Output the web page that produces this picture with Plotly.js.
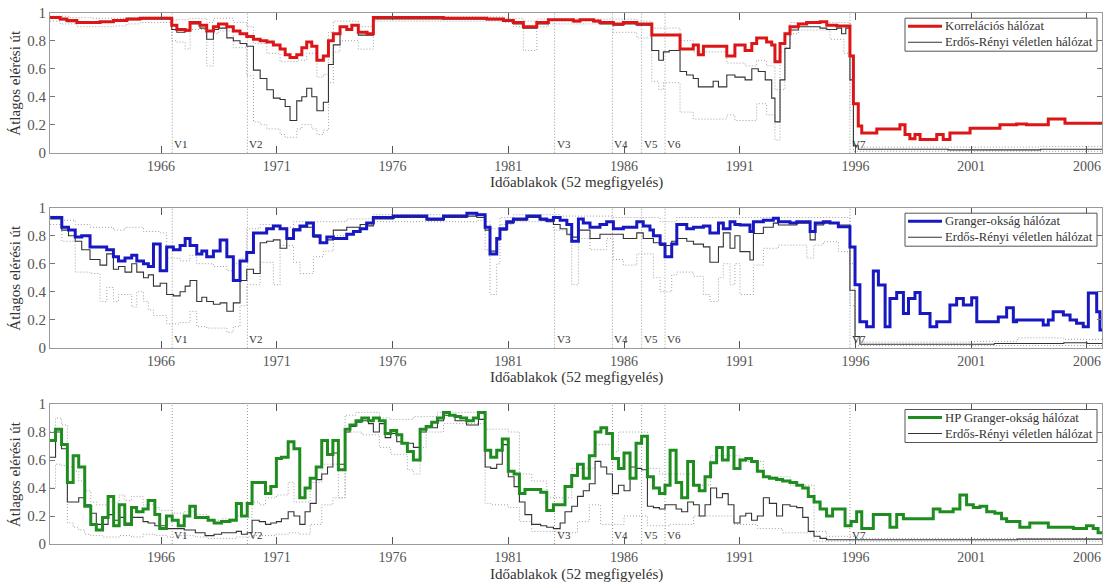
<!DOCTYPE html>
<html>
<head>
<meta charset="utf-8">
<script src="https://cdn.plot.ly/plotly-3.0.1.min.js"></script>
<style>
  html, body { margin: 0; padding: 0; background: #fff; }
  #chart { width: 1103px; height: 585px; }
</style>
</head>
<body>
<div id="chart"></div>
<script>
// ---- Event markers ----
const eventYears  = [1966.48, 1969.73, 1983.0, 1985.5, 1986.76, 1987.77, 1995.76];
const eventLabels = ['V1', 'V2', 'V3', 'V4', 'V5', 'V6', 'V7'];

const yTickVals = [0, 0.2, 0.4, 0.6, 0.8, 1];
const yTickText = ['0', '0.2', '0.4', '0.6', '0.8', '1'];

const seriesNames = ['Korrelációs hálózat', 'Granger-okság hálózat', 'HP Granger-okság hálózat'];
const erName = 'Erdős-Rényi véletlen hálózat';
const xTitle = 'Időablakok (52 megfigyelés)';
const yTitle = 'Átlagos elérési út';

// ---- Panel 1: correlation network ----
const corrYears = [1961.2,1961.64,1961.93,1962.36,1963.36,1963.94,1964.52,1965.09,1966.46,1966.68,1967.04,1967.25,1967.68,1967.97,1968.26,1968.48,1968.84,1969.12,1969.41,1969.70,1969.99,1970.28,1970.57,1970.85,1971.14,1971.36,1971.57,1971.86,1972.08,1972.29,1972.51,1972.73,1973.01,1973.23,1973.44,1973.73,1974.02,1974.24,1974.52,1974.9,1975.17,1978.19,1980.07,1980.79,1981.22,1981.65,1982.23,1982.73,1983.81,1984.10,1984.68,1984.96,1985.54,1985.97,1986.55,1987.20,1988.42,1988.99,1989.21,1989.43,1990.44,1990.79,1991.23,1991.52,1991.73,1992.16,1992.38,1992.52,1992.74,1992.95,1993.17,1993.53,1993.89,1994.47,1994.76,1995.19,1995.76,1995.91,1996.12,1996.27,1996.92,1997.92,1998.14,1998.35,1998.57,1998.79,1999.51,1999.79,2000.08,2000.95,2002.24,2002.96,2003.39,2004.33,2005.05];
const corrVals  = [0.965,0.955,0.945,0.93,0.935,0.945,0.955,0.96,0.91,0.88,0.875,0.93,0.91,0.87,0.90,0.92,0.90,0.87,0.85,0.83,0.81,0.80,0.79,0.77,0.74,0.70,0.68,0.70,0.75,0.79,0.76,0.66,0.69,0.80,0.85,0.90,0.88,0.91,0.86,0.85,0.965,0.96,0.955,0.945,0.93,0.90,0.93,0.95,0.94,0.95,0.94,0.93,0.92,0.93,0.92,0.84,0.74,0.77,0.70,0.76,0.69,0.77,0.73,0.78,0.82,0.79,0.77,0.65,0.78,0.85,0.90,0.92,0.93,0.935,0.91,0.905,0.69,0.35,0.19,0.14,0.17,0.20,0.13,0.10,0.13,0.095,0.13,0.095,0.14,0.175,0.20,0.205,0.20,0.24,0.21];

const erCorrYears = [1961.2,1961.64,1961.93,1962.36,1963.36,1963.94,1964.52,1965.09,1966.46,1966.68,1967.04,1967.25,1967.68,1967.97,1968.26,1968.48,1968.84,1969.12,1969.41,1969.70,1969.99,1970.28,1970.57,1970.85,1971.14,1971.36,1971.57,1971.86,1972.08,1972.29,1972.51,1972.73,1973.01,1973.23,1973.44,1973.73,1974.02,1974.24,1974.52,1975.17,1980.07,1980.79,1981.22,1981.65,1982.23,1982.73,1983.81,1984.10,1984.68,1984.96,1985.54,1985.97,1986.55,1987.20,1987.5,1987.7,1987.95,1988.42,1988.7,1988.99,1989.21,1989.85,1990.08,1990.44,1990.79,1991.23,1991.52,1991.8,1992.1,1992.38,1992.52,1992.74,1992.95,1993.17,1993.53,1994.47,1994.76,1995.19,1995.4,1995.58,1995.76,1995.91,1996.12,2000.0,2004.0];
const erCorrVals  = [0.96,0.95,0.935,0.925,0.93,0.94,0.95,0.955,0.88,0.86,0.87,0.92,0.89,0.81,0.88,0.89,0.82,0.80,0.78,0.76,0.59,0.53,0.45,0.39,0.38,0.33,0.23,0.37,0.40,0.46,0.40,0.30,0.36,0.63,0.77,0.90,0.88,0.91,0.84,0.955,0.95,0.94,0.92,0.89,0.92,0.945,0.935,0.945,0.935,0.92,0.91,0.92,0.91,0.73,0.66,0.72,0.73,0.58,0.555,0.53,0.47,0.51,0.47,0.555,0.54,0.52,0.60,0.58,0.52,0.39,0.22,0.52,0.745,0.876,0.90,0.89,0.88,0.89,0.85,0.89,0.52,0.05,0.025,0.02,0.025];

const hiCorrYears = [1961.2,1962.0,1963.0,1964.5,1965.1,1966.46,1967.25,1967.97,1968.26,1969.12,1969.70,1969.99,1970.57,1971.14,1971.86,1972.29,1972.73,1973.01,1973.23,1973.44,1974.52,1975.17,1980.79,1981.65,1982.23,1986.55,1987.20,1988.42,1988.99,1990.44,1991.23,1991.73,1992.16,1992.52,1992.74,1992.95,1993.17,1995.76,1995.91,1996.12,2004.0];
const hiCorrVals  = [0.975,0.965,0.96,0.965,0.97,0.95,0.96,0.93,0.96,0.93,0.90,0.78,0.71,0.65,0.66,0.71,0.54,0.56,0.86,0.94,0.90,0.97,0.96,0.94,0.955,0.94,0.89,0.80,0.72,0.64,0.62,0.66,0.62,0.45,0.72,0.86,0.93,0.70,0.06,0.04,0.045];

const loCorrYears = [1961.2,1961.64,1962.36,1963.94,1964.52,1965.09,1966.46,1966.68,1967.04,1967.25,1967.97,1968.26,1968.48,1969.12,1969.70,1969.99,1970.28,1970.57,1971.14,1971.36,1971.86,1972.08,1972.51,1972.73,1973.01,1973.23,1973.44,1973.73,1974.52,1975.17,1980.79,1981.22,1981.65,1982.23,1982.73,1985.54,1986.55,1987.20,1987.5,1987.7,1988.42,1988.99,1990.44,1990.79,1991.73,1992.16,1992.52,1992.74,1992.95,1993.17,1993.53,1994.90,1995.5,1995.76,1995.91];
const loCorrVals  = [0.94,0.92,0.90,0.905,0.92,0.93,0.80,0.79,0.74,0.88,0.62,0.85,0.87,0.75,0.55,0.22,0.20,0.17,0.13,0.11,0.17,0.20,0.17,0.13,0.16,0.50,0.72,0.80,0.74,0.94,0.93,0.90,0.73,0.90,0.92,0.86,0.82,0.51,0.45,0.50,0.29,0.24,0.27,0.23,0.35,0.27,0.09,0.45,0.75,0.85,0.876,0.81,0.71,0.30,0.01];

// ---- Panel 2: Granger-causality network ----
const granYears = [1961.21,1961.71,1962.0,1962.29,1962.57,1962.93,1963.65,1963.94,1964.16,1964.44,1964.73,1964.95,1965.24,1965.45,1965.67,1965.96,1966.24,1966.53,1966.82,1967.04,1967.25,1967.54,1967.76,1967.97,1968.26,1968.55,1968.84,1969.12,1969.41,1969.70,1969.99,1970.56,1970.85,1971.14,1971.43,1971.72,1972.0,1972.29,1972.58,1972.87,1973.16,1973.44,1974.02,1974.31,1974.60,1974.88,1975.17,1976.03,1977.48,1978.20,1979.21,1979.64,1980.00,1980.21,1980.50,1980.64,1980.93,1981.22,1981.80,1982.37,1982.66,1982.95,1983.24,1983.53,1983.74,1984.03,1984.24,1984.53,1984.96,1985.25,1985.54,1985.97,1986.55,1986.83,1987.12,1987.27,1987.56,1987.77,1988.06,1988.28,1988.71,1989.00,1989.43,1989.71,1990.08,1990.29,1990.58,1990.79,1991.01,1991.44,1991.59,1992.02,1992.45,1992.67,1993.17,1993.46,1994.04,1994.26,1994.61,1994.90,1995.26,1995.76,1995.98,1996.19,1996.48,1996.77,1996.99,1997.28,1997.49,1997.78,1998.07,1998.29,1998.57,1998.79,1999.22,1999.51,2000.08,2000.37,2000.66,2001.02,2001.24,2002.17,2002.53,2002.82,2002.96,2004.11,2004.33,2004.54,2004.98,2005.27,2005.55,2005.84,2006.06,2006.42,2006.56];
const granVals  = [0.93,0.86,0.84,0.79,0.80,0.72,0.70,0.65,0.62,0.64,0.66,0.62,0.60,0.58,0.74,0.55,0.72,0.70,0.73,0.78,0.73,0.67,0.69,0.65,0.69,0.77,0.65,0.48,0.62,0.68,0.82,0.85,0.87,0.85,0.78,0.84,0.87,0.89,0.80,0.75,0.79,0.78,0.81,0.83,0.85,0.89,0.93,0.94,0.92,0.94,0.96,0.95,0.86,0.67,0.78,0.85,0.90,0.92,0.94,0.92,0.91,0.93,0.91,0.88,0.76,0.92,0.89,0.86,0.88,0.90,0.85,0.86,0.90,0.87,0.84,0.80,0.74,0.65,0.74,0.88,0.85,0.86,0.87,0.82,0.89,0.85,0.90,0.88,0.876,0.83,0.90,0.91,0.924,0.90,0.89,0.90,0.83,0.89,0.90,0.89,0.864,0.72,0.45,0.186,0.15,0.548,0.448,0.15,0.352,0.395,0.245,0.352,0.395,0.245,0.15,0.186,0.305,0.352,0.305,0.357,0.186,0.22,0.286,0.186,0.198,0.162,0.198,0.257,0.233,0.198,0.174,0.15,0.39,0.257,0.126];

const erGranYears = [1961.21,1961.71,1962.0,1962.29,1962.57,1962.93,1963.36,1963.65,1963.94,1964.16,1964.44,1964.73,1964.95,1965.24,1965.45,1965.67,1965.96,1966.24,1966.53,1966.82,1967.04,1967.25,1967.54,1967.76,1967.97,1968.26,1968.55,1968.84,1969.12,1969.41,1969.70,1969.99,1970.28,1970.56,1970.85,1971.14,1971.43,1971.72,1972.0,1972.58,1972.87,1973.16,1973.44,1974.02,1974.60,1974.88,1975.17,1976.03,1977.48,1978.20,1979.21,1979.64,1980.00,1980.21,1980.50,1980.64,1980.93,1981.22,1981.80,1982.37,1982.66,1982.95,1983.24,1983.53,1983.74,1984.03,1984.53,1984.96,1985.97,1986.55,1986.83,1987.27,1987.56,1988.06,1988.28,1988.71,1989.00,1989.43,1989.71,1990.08,1990.29,1990.58,1990.79,1991.01,1991.44,1991.59,1992.02,1992.45,1992.67,1993.46,1994.04,1994.26,1994.61,1995.26,1995.76,1995.98,1996.19,2002.0,2005.0,2006.0];
const erGranVals  = [0.92,0.84,0.80,0.76,0.70,0.63,0.59,0.67,0.56,0.58,0.54,0.60,0.54,0.50,0.52,0.44,0.46,0.38,0.37,0.40,0.44,0.48,0.33,0.36,0.33,0.31,0.32,0.26,0.32,0.48,0.56,0.53,0.75,0.76,0.77,0.71,0.78,0.85,0.86,0.79,0.75,0.77,0.84,0.86,0.88,0.87,0.92,0.93,0.91,0.93,0.94,0.93,0.84,0.69,0.77,0.84,0.89,0.91,0.93,0.91,0.90,0.88,0.85,0.81,0.79,0.84,0.78,0.81,0.78,0.82,0.78,0.75,0.73,0.76,0.78,0.76,0.74,0.72,0.61,0.72,0.82,0.71,0.80,0.686,0.626,0.816,0.86,0.89,0.876,0.89,0.77,0.876,0.89,0.876,0.41,0.08,0.025,0.03,0.035,0.03];

const hiGranYears = [1961.21,1961.71,1962.29,1962.93,1963.94,1964.44,1965.24,1965.96,1966.24,1966.82,1967.25,1967.54,1968.26,1968.84,1969.12,1969.41,1969.70,1970.28,1971.14,1971.72,1974.02,1975.17,1979.64,1980.00,1980.21,1980.64,1981.22,1983.24,1985.54,1987.56,1988.28,1995.26,1995.76,1995.98,1996.19,2001.0,2003.0,2005.0];
const hiGranVals  = [0.94,0.91,0.88,0.86,0.84,0.86,0.83,0.82,0.64,0.62,0.66,0.60,0.58,0.55,0.60,0.64,0.85,0.88,0.86,0.90,0.92,0.95,0.96,0.90,0.85,0.93,0.95,0.94,0.93,0.90,0.93,0.93,0.60,0.05,0.04,0.045,0.07,0.06];

const loGranYears = [1961.21,1961.71,1962.29,1962.93,1963.36,1963.65,1963.94,1964.16,1964.73,1964.95,1965.24,1965.45,1965.67,1966.24,1966.82,1967.25,1967.54,1967.97,1968.84,1969.12,1969.41,1969.70,1970.28,1970.85,1971.14,1971.72,1972.0,1972.58,1973.01,1973.44,1974.02,1974.60,1975.17,1979.64,1980.00,1980.21,1980.50,1980.64,1981.22,1982.95,1983.53,1983.74,1984.03,1984.53,1985.25,1985.54,1985.97,1986.55,1987.27,1987.56,1988.06,1988.28,1989.00,1989.43,1989.71,1990.08,1990.29,1990.58,1990.79,1991.01,1991.59,1992.02,1992.67,1993.9,1994.2,1994.61,1995.26,1995.76,1995.98];
const loGranVals  = [0.88,0.76,0.54,0.53,0.33,0.43,0.33,0.38,0.29,0.40,0.33,0.27,0.23,0.17,0.18,0.26,0.15,0.14,0.11,0.15,0.30,0.45,0.61,0.45,0.73,0.61,0.53,0.65,0.69,0.80,0.86,0.88,0.90,0.91,0.70,0.38,0.60,0.88,0.90,0.84,0.80,0.45,0.78,0.70,0.78,0.63,0.59,0.67,0.50,0.40,0.52,0.54,0.51,0.38,0.33,0.50,0.60,0.45,0.60,0.38,0.59,0.71,0.733,0.64,0.733,0.757,0.686,0.30,0.015];

// ---- Panel 3: HP-filtered Granger-causality network ----
const hpYears = [1961.2,1961.44,1961.70,1961.95,1962.20,1962.44,1962.70,1962.96,1963.20,1963.47,1963.71,1963.95,1964.19,1964.43,1964.72,1964.94,1965.22,1965.44,1965.73,1965.94,1966.23,1966.48,1966.74,1967.00,1967.24,1967.48,1968.03,1968.29,1968.61,1968.97,1969.25,1969.47,1969.72,1969.93,1970.51,1970.74,1970.98,1971.20,1971.49,1971.74,1971.99,1972.22,1972.44,1972.70,1972.94,1973.19,1973.42,1973.66,1973.95,1974.16,1974.42,1974.67,1974.96,1975.17,1975.43,1975.68,1975.92,1976.18,1976.40,1976.64,1976.90,1977.19,1977.45,1977.69,1977.94,1978.20,1978.46,1978.70,1978.94,1979.20,1979.49,1979.71,1980.00,1980.24,1980.50,1980.74,1981.00,1981.25,1981.48,1981.72,1982.40,1982.66,1982.95,1983.45,1983.74,1983.99,1984.24,1984.50,1984.75,1985.00,1985.25,1985.50,1985.76,1986.00,1986.26,1986.52,1986.76,1987.01,1987.27,1987.53,1987.77,1987.99,1988.25,1988.49,1988.75,1989.00,1989.25,1989.50,1989.74,1990.00,1990.25,1990.50,1990.75,1991.01,1991.26,1991.51,1991.76,1992.02,1992.28,1992.59,1992.85,1993.17,1993.46,1993.72,1993.96,1994.21,1994.47,1994.75,1995.01,1995.55,1995.81,1996.05,1996.27,1996.77,1997.49,1997.78,1998.07,1999.36,1999.65,2000.22,2000.51,2000.80,2001.09,2001.38,2001.67,2002.02,2002.31,2002.53,2003.10,2003.53,2004.33,2005.41,2005.98,2006.27,2006.48];
const hpVals  = [0.74,0.82,0.71,0.44,0.63,0.55,0.27,0.14,0.10,0.19,0.34,0.13,0.28,0.14,0.26,0.23,0.25,0.31,0.21,0.11,0.20,0.17,0.13,0.20,0.27,0.19,0.17,0.15,0.16,0.17,0.29,0.20,0.29,0.44,0.36,0.41,0.61,0.62,0.73,0.68,0.33,0.40,0.47,0.55,0.74,0.64,0.74,0.53,0.82,0.85,0.88,0.90,0.88,0.90,0.88,0.79,0.81,0.78,0.72,0.66,0.60,0.82,0.84,0.87,0.90,0.94,0.92,0.91,0.90,0.88,0.90,0.94,0.67,0.62,0.67,0.75,0.52,0.50,0.36,0.39,0.37,0.24,0.28,0.41,0.49,0.57,0.47,0.63,0.80,0.83,0.79,0.61,0.54,0.65,0.47,0.72,0.77,0.48,0.40,0.36,0.42,0.67,0.44,0.33,0.59,0.42,0.38,0.48,0.58,0.69,0.60,0.69,0.54,0.60,0.61,0.59,0.52,0.48,0.47,0.46,0.45,0.44,0.42,0.40,0.34,0.30,0.25,0.20,0.25,0.13,0.16,0.23,0.11,0.21,0.12,0.21,0.18,0.25,0.23,0.25,0.35,0.28,0.26,0.27,0.23,0.22,0.18,0.16,0.12,0.15,0.12,0.11,0.13,0.11,0.08];

const erHpYears = [1961.2,1961.44,1961.70,1961.95,1962.44,1962.70,1962.96,1963.20,1963.71,1963.95,1964.19,1964.43,1964.72,1965.22,1965.44,1965.73,1966.23,1967.00,1967.48,1967.90,1968.29,1968.61,1969.25,1969.47,1969.72,1969.93,1970.24,1970.51,1970.74,1970.98,1971.20,1971.49,1971.74,1971.99,1972.22,1972.44,1972.70,1972.94,1973.19,1973.42,1973.66,1973.95,1974.16,1974.42,1974.67,1974.96,1975.17,1975.43,1975.68,1975.92,1976.18,1976.40,1976.90,1977.19,1977.45,1977.94,1978.20,1978.70,1979.20,1979.71,1980.00,1980.24,1980.50,1980.74,1981.00,1981.25,1981.48,1981.72,1982.01,1982.40,1982.66,1982.95,1983.24,1983.45,1983.74,1983.99,1984.24,1984.50,1984.75,1985.00,1985.25,1985.50,1985.76,1986.00,1986.26,1986.52,1986.76,1987.01,1987.27,1987.53,1987.77,1988.25,1988.49,1988.75,1989.00,1989.25,1989.50,1989.74,1990.00,1990.25,1990.50,1990.75,1991.01,1991.26,1991.51,1991.76,1992.02,1992.28,1992.59,1992.85,1993.17,1993.46,1993.72,1993.96,1994.21,1994.47,1994.75,2000.0,2003.0];
const erHpVals  = [0.62,0.80,0.68,0.30,0.33,0.28,0.22,0.14,0.21,0.17,0.19,0.15,0.19,0.16,0.15,0.13,0.11,0.10,0.08,0.06,0.07,0.08,0.09,0.07,0.08,0.17,0.16,0.14,0.15,0.16,0.18,0.23,0.20,0.14,0.23,0.29,0.46,0.50,0.55,0.65,0.57,0.80,0.84,0.87,0.88,0.86,0.80,0.86,0.76,0.79,0.73,0.72,0.69,0.80,0.83,0.88,0.92,0.88,0.85,0.89,0.55,0.54,0.57,0.71,0.48,0.41,0.30,0.21,0.14,0.13,0.12,0.11,0.15,0.23,0.27,0.34,0.38,0.43,0.59,0.55,0.50,0.36,0.42,0.38,0.55,0.54,0.53,0.27,0.26,0.25,0.28,0.25,0.23,0.30,0.28,0.20,0.28,0.40,0.33,0.36,0.28,0.15,0.20,0.22,0.17,0.20,0.33,0.29,0.20,0.28,0.27,0.26,0.19,0.09,0.055,0.04,0.03,0.03,0.035];

const hiHpYears = [1961.2,1961.44,1961.70,1961.95,1962.20,1962.44,1962.70,1962.96,1963.20,1963.71,1964.19,1964.43,1964.72,1965.22,1965.73,1965.94,1966.48,1967.00,1967.48,1968.03,1968.61,1969.25,1969.72,1969.93,1970.24,1970.51,1970.98,1971.49,1971.74,1972.44,1972.94,1973.66,1973.95,1974.42,1975.43,1975.92,1976.90,1977.94,1980.00,1981.00,1981.48,1982.01,1982.66,1983.74,1984.75,1985.50,1985.76,1987.01,1987.53,1989.00,1989.74,1991.01,1992.02,1993.17,1994.21,1994.75,1996.0];
const hiHpVals  = [0.80,0.90,0.85,0.55,0.52,0.45,0.38,0.30,0.28,0.30,0.35,0.31,0.34,0.28,0.26,0.24,0.22,0.23,0.21,0.17,0.18,0.20,0.19,0.30,0.28,0.33,0.35,0.44,0.30,0.44,0.57,0.33,0.92,0.94,0.90,0.89,0.91,0.94,0.82,0.80,0.50,0.45,0.33,0.54,0.71,0.66,0.80,0.54,0.50,0.42,0.63,0.59,0.48,0.42,0.09,0.055,0.04];

const loHpYears = [1961.2,1961.44,1961.70,1961.95,1962.20,1962.44,1962.70,1962.96,1963.47,1964.19,1964.72,1965.22,1965.73,1966.23,1966.74,1967.48,1968.03,1969.25,1969.93,1970.98,1971.49,1971.99,1972.44,1972.94,1973.42,1973.95,1974.67,1975.43,1975.92,1976.64,1976.90,1977.19,1977.45,1978.20,1979.71,1980.00,1980.24,1981.00,1981.48,1982.01,1983.24,1983.99,1984.50,1984.99,1986.00,1987.01,1987.99,1989.00,1990.75,1991.76,1992.85,1994.21];
const loHpVals  = [0.40,0.57,0.56,0.15,0.12,0.10,0.07,0.06,0.05,0.06,0.05,0.07,0.06,0.05,0.06,0.05,0.04,0.05,0.06,0.07,0.08,0.07,0.14,0.28,0.33,0.80,0.78,0.69,0.64,0.53,0.50,0.69,0.80,0.86,0.86,0.29,0.28,0.26,0.16,0.09,0.08,0.16,0.28,0.14,0.20,0.13,0.14,0.20,0.14,0.11,0.08,0.02];

// ---- Drawing ----
const X_RANGE = [1961.2, 2006.65];
const FONT = 'Liberation Serif, Times New Roman, serif';

// step line held to the right edge of the axis
function steps(xs, ys, axisIdx, style, extra) {
  const sfx = axisIdx === 1 ? '' : String(axisIdx);
  return Object.assign({
    type: 'scatter', mode: 'lines',
    x: xs.concat([X_RANGE[1]]),
    y: ys.concat([ys[ys.length - 1]]),
    xaxis: 'x' + sfx, yaxis: 'y' + sfx,
    line: Object.assign({ shape: 'hv' }, style),
    hoverinfo: 'skip', showlegend: false
  }, extra || {});
}

const panels = [
  { main: [corrYears, corrVals], er: [erCorrYears, erCorrVals], hi: [hiCorrYears, hiCorrVals], lo: [loCorrYears, loCorrVals], color: '#dc1616' },
  { main: [granYears, granVals], er: [erGranYears, erGranVals], hi: [hiGranYears, hiGranVals], lo: [loGranYears, loGranVals], color: '#1818c0' },
  { main: [hpYears, hpVals],     er: [erHpYears, erHpVals],     hi: [hiHpYears, hiHpVals],     lo: [loHpYears, loHpVals],     color: '#1e8c1e' }
];

const bandStyle = { color: '#a0a0a0', width: 1, dash: '1px,2px' };
const erStyle = { color: '#333333', width: 1.1 };
const mainWidth = 3;

const traces = [];
panels.forEach((p, i) => {
  const idx = i + 1;
  traces.push(steps(p.hi[0], p.hi[1], idx, bandStyle));
  traces.push(steps(p.lo[0], p.lo[1], idx, bandStyle));
  traces.push(steps(p.er[0], p.er[1], idx, erStyle, { name: erName }));
  traces.push(steps(p.main[0], p.main[1], idx, { color: p.color, width: mainWidth }, { name: seriesNames[i] }));
});

const H = 585;
const PLOT_W = 1052;
// panel boxes in pixels from the top: [top, bottom]
const boxes = [[12.7, 152.7], [207.7, 347.7], [404, 544]];

const layout = {
  width: 1103, height: H,
  margin: { l: 50, r: 1, t: 0, b: 0 },
  paper_bgcolor: '#fff', plot_bgcolor: '#fff',
  font: { family: FONT, size: 14, color: '#444' },
  showlegend: false,
  shapes: [], annotations: []
};

// key box placed in each panel's top-right corner (axis-domain units)
const keyBox = { x0: 855 / PLOT_W, x1: 1047 / PLOT_W, y0: 1 - 38.5 / 140, y1: 1 - 5.5 / 140 };
const keySample = { x0: 858 / PLOT_W, x1: 892 / PLOT_W };
const keyRows = [1 - 13.5 / 140, 1 - 29.5 / 140];
const keyTextX = 893 / PLOT_W;

boxes.forEach((b, i) => {
  const sfx = i === 0 ? '' : String(i + 1);
  const xd = 'x' + sfx + ' domain', yd = 'y' + sfx + ' domain';
  const dom = [1 - b[1] / H, 1 - b[0] / H];
  layout['xaxis' + sfx] = {
    domain: [0, 1], anchor: 'y' + sfx, range: X_RANGE,
    tick0: 1966, dtick: 5, tickformat: 'd',
    ticks: 'inside', ticklen: 7, tickcolor: '#555', tickwidth: 1,
    showline: true, linecolor: '#9a9a9a', linewidth: 1, mirror: 'ticks',
    showgrid: false, zeroline: false,
    tickfont: { family: FONT, size: 14, color: '#555' }
  };
  layout['yaxis' + sfx] = {
    domain: dom, anchor: 'x' + sfx, range: [0, 1],
    tickvals: yTickVals, ticktext: yTickText,
    ticks: 'inside', ticklen: 5, tickcolor: '#777', tickwidth: 1,
    showline: true, linecolor: '#9a9a9a', linewidth: 1, mirror: 'ticks',
    showgrid: false, zeroline: false,
    tickfont: { family: FONT, size: 15, color: '#555' }
  };

  eventYears.forEach((yr, k) => {
    layout.shapes.push({
      type: 'line', xref: 'x' + sfx, yref: yd,
      x0: yr, x1: yr, y0: 0, y1: 1,
      line: { color: '#9a9a9a', width: 1, dash: '1px,2px' }, layer: 'below'
    });
    layout.annotations.push({
      xref: 'x' + sfx, yref: yd,
      x: yr, y: 0.065, xanchor: 'left', yanchor: 'middle',
      text: eventLabels[k], showarrow: false,
      font: { family: FONT, size: 11, color: '#333' }
    });
  });

  // key: box, line samples, labels
  const p = panels[i];
  layout.shapes.push({
    type: 'rect', xref: xd, yref: yd,
    x0: keyBox.x0, x1: keyBox.x1, y0: keyBox.y0, y1: keyBox.y1,
    line: { color: '#555', width: 1 }, fillcolor: '#fff', layer: 'above'
  });
  const keyItems = [
    { name: seriesNames[i], color: p.color, width: mainWidth },
    { name: erName, color: erStyle.color, width: erStyle.width }
  ];
  keyItems.forEach((it, r) => {
    layout.shapes.push({
      type: 'line', xref: xd, yref: yd,
      x0: keySample.x0, x1: keySample.x1, y0: keyRows[r], y1: keyRows[r],
      line: { color: it.color, width: it.width }, layer: 'above'
    });
    layout.annotations.push({
      xref: xd, yref: yd, x: keyTextX, y: keyRows[r],
      xanchor: 'left', yanchor: 'middle', showarrow: false,
      text: it.name, font: { family: FONT, size: 12.7, color: '#333' }
    });
  });

  layout.annotations.push({
    xref: xd, yref: yd,
    x: 0.5, y: -0.215, xanchor: 'center', yanchor: 'middle',
    text: xTitle, showarrow: false,
    font: { family: FONT, size: 15, color: '#333' }
  });
  layout.annotations.push({
    xref: 'paper', yref: yd,
    x: -35 / PLOT_W, y: 0.5, xanchor: 'center', yanchor: 'middle',
    text: yTitle, textangle: -90, showarrow: false,
    font: { family: FONT, size: 15, color: '#333' }
  });
});

Plotly.newPlot('chart', traces, layout, { displayModeBar: false, staticPlot: true });
</script>
</body>
</html>
